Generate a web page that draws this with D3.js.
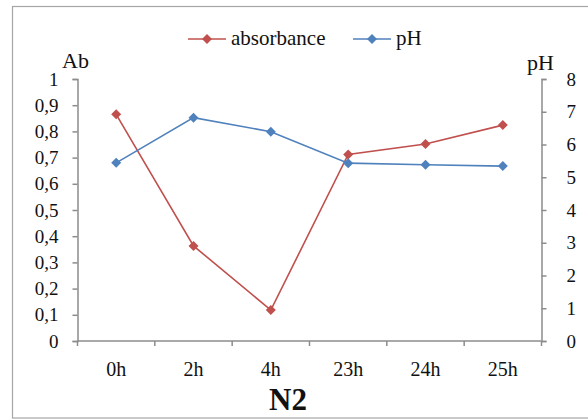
<!DOCTYPE html>
<html>
<head>
<meta charset="utf-8">
<script src="https://cdn.jsdelivr.net/npm/d3@7"></script>
<style>
  body { margin: 0; background: #fff; }
  text { font-family: "Liberation Serif", "Times New Roman", serif; fill: #111; }
</style>
</head>
<body>
<svg id="chart"></svg>
<script>
// chart data
const categories = ["0h", "2h", "4h", "23h", "24h", "25h"];
const absorbance = [0.865, 0.363, 0.118, 0.712, 0.752, 0.824];
const phValues = [5.44, 6.82, 6.39, 5.43, 5.38, 5.34];
const leftTicks = [0, 0.1, 0.2, 0.3, 0.4, 0.5, 0.6, 0.7, 0.8, 0.9, 1];
const rightTicks = [0, 1, 2, 3, 4, 5, 6, 7, 8];

const red = "#C0504D";
const blue = "#4F81BD";
const axisColor = "#8c8c8c";

// square diamond like the excel marker
const excelDiamond = {
    draw(context, size) {
        const r = Math.sqrt(size / 2);
        context.moveTo(0, -r);
        context.lineTo(r, 0);
        context.lineTo(0, r);
        context.lineTo(-r, 0);
        context.closePath();
    }
};

function drawChart() {
    const svg = d3.select("#chart")
        .attr("width", 588)
        .attr("height", 420);

    // outer frame (right side runs past the picture)
    svg.append("rect")
        .attr("x", 12.5).attr("y", 6.5)
        .attr("width", 600).attr("height", 411.5)
        .attr("fill", "none")
        .attr("stroke", "#a6a6a6")
        .attr("stroke-width", 1.2);

    const plot = { left: 77.5, right: 541.5, top: 79, bottom: 341 };

    const x = d3.scaleBand()
        .domain(categories)
        .range([plot.left, plot.right]);

    const yAb = d3.scaleLinear().domain([0, 1]).range([plot.bottom, plot.top]);
    const yPh = d3.scaleLinear().domain([0, 8]).range([plot.bottom, plot.top]);

    // left axis
    const leftAxis = svg.append("g")
        .attr("transform", `translate(${plot.left},0)`)
        .call(d3.axisLeft(yAb).tickValues(leftTicks).tickSize(5).tickPadding(14)
            .tickFormat(d => d3.format(".1f")(d).replace(".", ",").replace(/^0,0$/, "0").replace(/^1,0$/, "1")));

    // right axis
    const rightAxis = svg.append("g")
        .attr("transform", `translate(${plot.right},0)`)
        .call(d3.axisRight(yPh).tickValues(rightTicks).tickSize(5).tickPadding(20).tickFormat(d3.format("d")));

    // bottom axis: ticks at band boundaries
    const bottomAxis = svg.append("g")
        .attr("transform", `translate(0,${plot.bottom})`);
    bottomAxis.append("line")
        .attr("x1", plot.left).attr("x2", plot.right)
        .attr("stroke", axisColor).attr("stroke-width", 1.5);
    const bounds = categories.map(c => x(c)).concat([plot.right]);
    bottomAxis.selectAll(".btick")
        .data(bounds)
        .join("line")
        .attr("x1", d => d).attr("x2", d => d)
        .attr("y1", 0).attr("y2", 5)
        .attr("stroke", axisColor).attr("stroke-width", 1.5);
    bottomAxis.selectAll(".blabel")
        .data(categories)
        .join("text")
        .attr("x", d => x(d) + x.bandwidth() / 2)
        .attr("y", 35)
        .attr("text-anchor", "middle")
        .style("font-size", "20px")
        .text(d => d);

    [leftAxis, rightAxis].forEach(a => {
        a.select(".domain").attr("stroke", axisColor).attr("stroke-width", 1.5);
        a.selectAll(".tick line").attr("stroke", axisColor).attr("stroke-width", 1.5);
        a.selectAll(".tick text").style("font-size", "19px")
            .style("font-family", "'Liberation Serif', serif").attr("fill", "#111");
    });

    // axis titles
    svg.append("text").attr("x", 62).attr("y", 68).style("font-size", "22px").text("Ab");
    svg.append("text").attr("x", 527).attr("y", 70).style("font-size", "22px").text("pH");
    svg.append("text")
        .attr("x", 288)
        .attr("y", 410)
        .attr("text-anchor", "middle")
        .style("font-size", "31px")
        .style("font-weight", "bold")
        .text("N2");

    const diamond = d3.symbol().type(excelDiamond).size(50);
    const cx = c => x(c) + x.bandwidth() / 2;

    const series = [
        { values: absorbance, y: yAb, color: red },
        { values: phValues, y: yPh, color: blue }
    ];

    series.forEach(s => {
        const line = d3.line()
            .x((d, i) => cx(categories[i]))
            .y(d => s.y(d));
        svg.append("path")
            .datum(s.values)
            .attr("d", line)
            .attr("fill", "none")
            .attr("stroke", s.color)
            .attr("stroke-width", 1.6);
        svg.append("g")
            .selectAll("path")
            .data(s.values)
            .join("path")
            .attr("d", diamond)
            .attr("transform", (d, i) => `translate(${cx(categories[i])},${s.y(d)})`)
            .attr("fill", s.color);
    });

    // legend
    const legendItems = [
        { name: "absorbance", color: red, x0: 188 },
        { name: "pH", color: blue, x0: 353 }
    ];
    const lg = svg.append("g").attr("transform", "translate(0,39)");
    legendItems.forEach(it => {
        lg.append("line")
            .attr("x1", it.x0).attr("x2", it.x0 + 38)
            .attr("stroke", it.color).attr("stroke-width", 1.6);
        lg.append("path")
            .attr("d", diamond)
            .attr("transform", `translate(${it.x0 + 19},0)`)
            .attr("fill", it.color);
        lg.append("text")
            .attr("x", it.x0 + 43)
            .attr("y", 6)
            .style("font-size", "21px")
            .text(it.name);
    });
}

drawChart();
</script>
</body>
</html>
